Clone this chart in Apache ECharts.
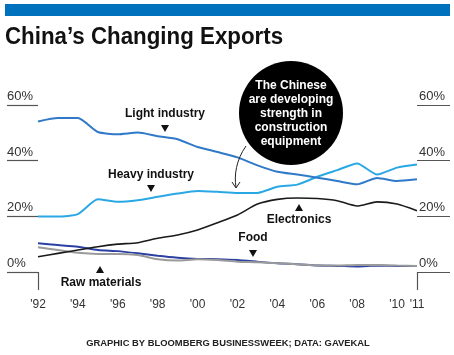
<!DOCTYPE html>
<html><head><meta charset="utf-8">
<script src="https://cdn.jsdelivr.net/npm/echarts@6/dist/echarts.min.js"></script>
<style>html,body{margin:0;padding:0;background:#fff}#c{width:454px;height:355px}</style>
</head><body><div id="c"></div>
<script>
var years = ['1992','1993','1994','1995','1996','1997','1998','1999','2000','2001','2002','2003','2004','2005','2006','2007','2008','2009','2010','2011'];
var yearLabels = ["'92","","'94","","'96","","'98","","'00","","'02","","'04","","'06","","'08","","'10","'11"];
var lightIndustry = [54.1,55.3,55.3,50.3,49.5,50.1,48.8,47.7,44.9,43.1,41.2,38.3,36.0,35.0,33.9,32.7,31.5,33.8,32.7,33.3];
var heavyIndustry = [19.9,19.9,20.8,26.1,25.2,25.8,27.0,28.2,29.1,28.8,28.4,28.4,30.6,31.4,34.2,36.6,39.0,35.0,37.5,38.6];
var electronics = [5.5,6.7,7.9,9.1,10.0,10.5,12.1,13.3,15.1,17.7,20.5,24.4,26.1,26.6,26.4,25.6,23.7,25.2,24.4,22.0];
var rawMaterials = [10.3,9.7,9.1,7.9,7.5,6.7,5.8,5.1,4.7,4.6,4.3,3.7,3.1,2.8,2.3,2.2,2.0,2.3,2.2,2.2];
var food = [8.9,7.9,6.9,6.5,6.5,6.1,4.6,4.1,4.6,4.3,3.7,3.5,3.1,2.8,2.4,2.3,2.5,2.5,2.3,2.2];
var yTicks = [0,20,40,60];

var FONT = '"Liberation Sans", Arial, sans-serif';
var chart = echarts.init(document.getElementById('c'), null, {renderer:'canvas'});

function yAxisCfg(pos, tickLen, align, margin){
  return {
    type:'value', position:pos, min:yTicks[0], max:yTicks[yTicks.length-1], interval:yTicks[1]-yTicks[0],
    axisLine:{show:false},
    axisTick:{show:true, inside:false, length:tickLen, lineStyle:{color:'#555', width:1.2}},
    splitLine:{show:false},
    axisLabel:{formatter:'{value}%', align:align, margin:margin, verticalAlign:'bottom', padding:[0,0,2,0],
      color:'#333', fontSize:13, fontFamily:FONT}
  };
}

function tri(x, y, up){
  var pts = up ? [[x-4,y+7],[x+4,y+7],[x,y]] : [[x-4,y],[x+4,y],[x,y+7]];
  return {type:'polygon', shape:{points:pts}, style:{fill:'#111'}, z:10};
}
function lbl(x, y, t){
  return {type:'text', x:x, y:y, style:{text:t, font:'bold 12px '+FONT, fill:'#111', textAlign:'center', textVerticalAlign:'middle'}, z:10};
}

var lineDefs = [
  {name:'Raw materials', data:rawMaterials, color:'#2c3fa3', w:2},
  {name:'Food', data:food, color:'#9a9a9a', w:2},
  {name:'Electronics', data:electronics, color:'#1a1a1a', w:1.6},
  {name:'Heavy industry', data:heavyIndustry, color:'#2aa8e4', w:2},
  {name:'Light industry', data:lightIndustry, color:'#2f79c8', w:2}
];

chart.setOption({
  animation:false,
  backgroundColor:'#fff',
  grid:{left:38, right:37, top:105, bottom:83, containLabel:false},
  xAxis:{
    type:'category', data:years, boundaryGap:false,
    axisLine:{show:false},
    axisTick:{show:true, length:18, interval:function(i){return i===0 || i===years.length-1;}, lineStyle:{color:'#555', width:1.2}},
    axisLabel:{interval:0, formatter:function(v,i){return yearLabels[i];}, margin:27, color:'#333', fontSize:12, fontFamily:FONT},
    splitLine:{show:false}
  },
  yAxis:[yAxisCfg('left',31,'left',31), yAxisCfg('right',33,'left',2)],
  series:lineDefs.map(function(d){
    return {type:'line', name:d.name, data:d.data, yAxisIndex:0, symbol:'none', smooth:0.2,
      lineStyle:{color:d.color, width:d.w}};
  }),
  graphic:[
    {type:'rect', shape:{x:5, y:4, width:445, height:12}, style:{fill:'#0071bd'}},
    {type:'text', x:5, y:38, scaleX:0.97, style:{text:"China\u2019s Changing Exports", font:'bold 23px '+FONT, fill:'#111', textVerticalAlign:'middle'}},
    {type:'circle', shape:{cx:291, cy:113, r:52}, style:{fill:'#000'}, z:5},
    {type:'text', x:291, y:114, style:{text:'The Chinese\nare developing\nstrength in\nconstruction\nequipment', font:'bold 12px '+FONT, lineHeight:14, fill:'#fff', textAlign:'center', textVerticalAlign:'middle'}, z:6},
    {type:'bezierCurve', shape:{x1:246, y1:146, x2:236, y2:187, cpx1:236, cpy1:160, cpx2:234, cpy2:176}, style:{stroke:'#222', lineWidth:1, fill:null}, z:6},
    {type:'polyline', shape:{points:[[232,182],[236,188],[240,182]]}, style:{stroke:'#222', lineWidth:1, fill:null}, z:6},
    lbl(165,114,'Light industry'), tri(165,125,false),
    lbl(151,175,'Heavy industry'), tri(151,185,false),
    lbl(299,220,'Electronics'), tri(299,204,true),
    lbl(253,238,'Food'), tri(253,250,false),
    lbl(101,283,'Raw materials'), tri(100,266,true),
    {type:'text', x:228, y:344, scaleX:1.08, originX:0, originY:0, style:{text:'GRAPHIC BY BLOOMBERG BUSINESSWEEK; DATA: GAVEKAL', font:'bold 8.7px '+FONT, fill:'#222', textAlign:'center', textVerticalAlign:'middle'}}
  ]
});
</script></body></html>
